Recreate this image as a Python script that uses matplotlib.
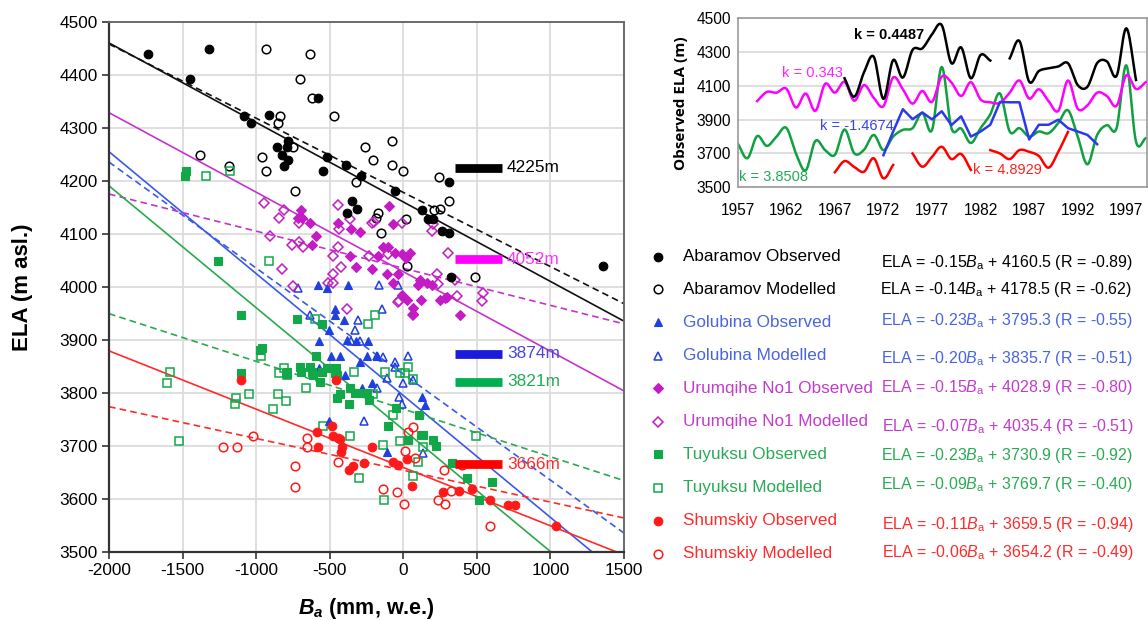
import numpy as np
import matplotlib
matplotlib.use("Agg")
import matplotlib.pyplot as plt

plt.rcParams['font.family'] = ['Liberation Sans', 'DejaVu Sans']
plt.rcParams['axes.unicode_minus'] = False
plt.rcParams['mathtext.fontset'] = 'custom'
plt.rcParams['mathtext.rm'] = 'Liberation Sans'
plt.rcParams['mathtext.it'] = 'Liberation Sans:italic'
plt.rcParams['mathtext.bf'] = 'Liberation Sans:bold'
try:
    plt.rcParams['mathtext.bfit'] = 'Liberation Sans:bold:italic'
except KeyError:
    pass

# ---------------- data ----------------
glaciers = ["Abaramov", "Golubina", "Urumqihe No1", "Tuyuksu", "Shumskiy"]

abaramov_obs_ba = [-1733, -1451, -1318, -1084, -1037, -910, -860, -792, -781, -822, -781, -808,
                   -577, -545, -516, -391, -289, -350, -384, -316, -56, 126, 171, 205, 266, 311,
                   311, 323, 1354]
abaramov_obs_ela = [4439, 4392, 4449, 4323, 4309, 4325, 4265, 4265, 4276, 4250, 4240, 4228,
                    4357, 4219, 4245, 4230, 4209, 4163, 4140, 4148, 4181, 4145, 4128, 4128, 4106, 4102,
                    4199, 4019, 4039]
abaramov_mod_ba = [-931, -634, -702, -622, -468, -835, -849, -751, -962, -935, -736, -1383, -1182,
                   -260, -203, -78, -76, -323, -173, -185, -151, 0, 245, 313, 211, 250, 19, 22, 488]
abaramov_mod_ela = [4449, 4439, 4392, 4357, 4323, 4323, 4309, 4264, 4245, 4219, 4181, 4249, 4228,
                    4264, 4239, 4275, 4230, 4199, 4139, 4130, 4102, 4219, 4208, 4162, 4145, 4147, 4129,
                    4039, 4019]

golubina_obs_ba = [-577, -520, -373, -464, -464, -400, -502, -570, -384, -237, -493, -294, -248,
                   -570, -396, -282, -214, -502, -112, -430, -321, -180, 126, 148]
golubina_obs_ela = [4004, 3999, 4004, 3958, 3948, 3938, 3919, 3898, 3900, 3898, 3870, 3859, 3869,
                    3848, 3834, 3809, 3818, 3748, 3689, 3870, 3899, 3869, 3792, 3777]
golubina_mod_ba = [-717, -162, -37, -146, -634, -305, -328, -294, -180, -135, -56, -108, -180,
                   -267, -26, -357, -56, 35, 0, -10, 137, 69]
golubina_mod_ela = [3998, 4004, 4004, 3958, 3948, 3938, 3919, 3898, 3870, 3867, 3859, 3828, 3809,
                    3748, 3793, 3899, 3850, 3869, 3819, 3779, 3686, 3825]

urumqi_obs_ba = [-695, -713, -690, -634, -593, -622, -441, -357, -294, -362, -321, -210, -173,
                 -94, -67, -139, -101, -56, -10, 17, 46, -71, -33, 113, 103, 164, 194, -10, 24,
                 64, 68, 119, 250, 284, 300, 386, -112]
urumqi_obs_ela = [4145, 4130, 4130, 4121, 4097, 4079, 4121, 4109, 4104, 4058, 4037, 4034, 4058,
                  4153, 4119, 4076, 4076, 4064, 4062, 4055, 4065, 4007, 4025, 4013, 4004, 4007, 4004,
                  3985, 3975, 3960, 3950, 3975, 3975, 3979, 3982, 3947, 4025]
urumqi_mod_ba = [-944, -808, -844, -706, -906, -758, -706, -679, -826, -747, -445, -434, -445,
                 -479, -423, -475, -509, -479, -384, -233, -198, -362, -214, -105, -28, -10, 205,
                 194, 307, 228, 239, 352, 368, -33, 64, 545, 534]
urumqi_mod_ela = [4159, 4145, 4130, 4121, 4097, 4079, 4084, 4075, 4034, 4001, 4155, 4109, 4076,
                  4059, 4037, 4025, 4007, 4007, 3958, 4059, 4123, 4128, 4120, 4062, 3974, 4120, 4119,
                  4106, 4065, 4025, 4005, 4013, 3983, 3972, 3947, 3988, 3974]

tuyuksu_obs_ba = [-1477, -1483, -1257, -1105, -1105, -724, -554, -958, -974, -593, -788, -788,
                  -702, -697, -634, -622, -611, -566, -554, -520, -486, -457, -452, -464, -448,
                  -430, -362, -328, -282, -248, -230, -366, -105, -49, 110, 120, 133, 35, 205,
                  223, 330, 436, 601, 517]
tuyuksu_obs_ela = [4219, 4209, 4050, 3948, 3838, 3940, 3930, 3884, 3881, 3870, 3840, 3835,
                   3850, 3840, 3850, 3840, 3834, 3820, 3840, 3848, 3848, 3848, 3834, 3838, 3790,
                   3798, 3809, 3800, 3800, 3800, 3787, 3779, 3738, 3771, 3758, 3721, 3721, 3711,
                   3711, 3700, 3668, 3639, 3633, 3598]
tuyuksu_mod_ba = [-1343, -1177, -910, -1585, -1604, -1524, -1137, -1143, -1046, -967, -842, -810,
                  -792, -849, -797, -883, -661, -600, -547, -362, -335, -298, -192, -237, -128,
                  -71, -124, -203, -20, -139, -20, 103, 65, 35, 12, 495, 137, 65]
tuyuksu_mod_ela = [4209, 4219, 4050, 3839, 3819, 3709, 3790, 3779, 3799, 3869, 3838, 3848,
                   3834, 3799, 3785, 3769, 3809, 3940, 3738, 3719, 3840, 3639, 3948, 3930, 3599,
                   3758, 3840, 3799, 3838, 3702, 3709, 3670, 3643, 3850, 3838, 3719, 3699, 3826]

shumskiy_obs_ba = [-1105, -459, -584, -577, -486, -475, -441, -430, -418, -425, -366, -339, -267,
                   -210, -67, -33, 28, 58, 268, 381, 466, 590, 714, 760, 1039]
shumskiy_obs_ela = [3825, 3825, 3726, 3699, 3738, 3719, 3716, 3714, 3699, 3689, 3655, 3663, 3667,
                    3699, 3669, 3664, 3675, 3625, 3614, 3616, 3618, 3599, 3589, 3589, 3549]
shumskiy_mod_ba = [-1227, -1132, -1019, -736, -736, -652, -652, -441, -135, -44, 65, 31, 12, 80,
                   8, 234, 284, 277, 325, 398, 590]
shumskiy_mod_ela = [3699, 3699, 3719, 3663, 3623, 3716, 3699, 3669, 3618, 3614, 3736, 3727, 3691,
                    3677, 3590, 3599, 3590, 3655, 3615, 3664, 3549]

# regression coefficients: observed then modelled for each glacier
fit_slope = [-0.15, -0.14, -0.23, -0.20, -0.15, -0.07, -0.23, -0.09, -0.11, -0.06]
fit_intercept = [4160.5, 4178.5, 3795.3, 3835.7, 4028.9, 4035.4, 3730.9, 3769.7, 3659.5, 3654.2]
fit_r = [-0.89, -0.62, -0.55, -0.51, -0.80, -0.51, -0.92, -0.40, -0.94, -0.49]

# mean ELA markers
mean_ela = [4225, 4052, 3874, 3821, 3666]

# observed ELA time series
abaramov_years = list(range(1968, 1984)) + list(range(1985, 1999))
abaramov_series = [4145, 4036, 4180, 4273, 4023, 4253, 4149, 4313, 4322, 4405, 4460, 4234, 4328,
                   4145, 4283, 4250, 4263, 4366, 4125, 4188, 4204, 4215, 4234, 4105, 4095, 4235,
                   4245, 4159, 4441, 4135]
urumqi_years = list(range(1959, 2000))
urumqi_series = [4010, 4064, 4060, 4084, 3972, 4055, 3952, 4112, 4060, 4124, 4012, 4105, 4030,
                 3980, 4150, 4080, 3995, 4070, 4005, 4155, 4120, 4040, 4122, 4020, 4003, 4000,
                 4060, 4132, 4025, 4080, 4010, 3952, 4132, 3965, 3985, 4060, 4040, 3982, 4163,
                 4082, 4122]
tuyuksu_years = list(range(1957, 2000))
tuyuksu_series = [3760, 3672, 3803, 3745, 3800, 3852, 3700, 3600, 3775, 3720, 3692, 3842, 3701,
                  3722, 3810, 3720, 3800, 3840, 3850, 3940, 3838, 4212, 3850, 3848, 3762, 3850,
                  3932, 4055, 3830, 3850, 3800, 3830, 3820, 3880, 3956, 3800, 3636, 3810, 3868,
                  3850, 4222, 3770, 3790]
golubina_years = list(range(1972, 1995))
golubina_series = [3690, 3830, 3962, 3903, 3943, 3902, 3950, 3868, 3920, 3800, 3830, 3870, 4005,
                   4003, 4003, 3783, 3870, 3870, 3900, 3850, 3830, 3810, 3755]
shumskiy_years = [1967, 1968, 1969, 1970, 1971, 1972, 1973,
                  1975, 1976, 1977, 1978, 1979, 1980, 1981,
                  1983, 1984, 1985, 1986, 1987, 1988, 1989, 1990, 1991]
shumskiy_series = [3589, 3655, 3620, 3592, 3672, 3553, 3632,
                   3700, 3622, 3680, 3740, 3667, 3697, 3603,
                   3720, 3700, 3667, 3720, 3710, 3685, 3616, 3710, 3828]
trend_k = ["0.4487", "0.343", "-1.4674", "3.8508", "4.8929"]

# ---------------- styling ----------------
W, H = 1148, 620
C_BLACK = "#000000"
C_BLUE = "#1f3fe0"
C_MAG = "#c41cc4"
C_GREEN = "#12a84a"
C_RED = "#ff1a1a"
line_cols = ["#111111", "#3a5ae6", "#c633cc", "#2aaa4c", "#ff2a2a"]
text_cols = ["#000000", "#4a64e0", "#c23ccc", "#2aaa55", "#ff2a2a"]
mark_cols = [C_BLACK, C_BLUE, C_MAG, C_GREEN, C_RED]
markers = ["o", "^", "D", "s", "o"]
msizes = [6.2, 6.2, 5.2, 6.0, 6.2]
bar_cols = ["#000000", "#ff00ff", "#1a1ad8", "#00b050", "#ff0000"]
bar_text_cols = ["#000000", "#ff33ff", "#4646dd", "#22aa55", "#ff2a2a"]
inset_cols = ["#000000", "#ff00ff", "#2a3ae8", "#10a040", "#ff0000"]

obs_sets = [(abaramov_obs_ba, abaramov_obs_ela), (golubina_obs_ba, golubina_obs_ela),
            (urumqi_obs_ba, urumqi_obs_ela), (tuyuksu_obs_ba, tuyuksu_obs_ela),
            (shumskiy_obs_ba, shumskiy_obs_ela)]
mod_sets = [(abaramov_mod_ba, abaramov_mod_ela), (golubina_mod_ba, golubina_mod_ela),
            (urumqi_mod_ba, urumqi_mod_ela), (tuyuksu_mod_ba, tuyuksu_mod_ela),
            (shumskiy_mod_ba, shumskiy_mod_ela)]

fig = plt.figure(figsize=(W / 100, H / 100), dpi=100)

# ---------------- main scatter ----------------
ax = fig.add_axes([109 / W, 1 - 552 / H, 515 / W, 530 / H])
ax.set_xlim(-2000, 1500)
ax.set_ylim(3500, 4500)
ax.set_xticks(np.arange(-2000, 1501, 500))
ax.set_yticks(np.arange(3500, 4501, 100))
ax.grid(True, color="#dcdcdc", lw=1.3, zorder=0)
ax.set_axisbelow(True)
for s in ["left", "bottom"]:
    ax.spines[s].set_color("#333333")
    ax.spines[s].set_linewidth(1.6)
for s in ["top", "right"]:
    ax.spines[s].set_color("#6a6a6a")
    ax.spines[s].set_linewidth(1.4)
ax.tick_params(axis="both", labelsize=12.4, length=5, width=1.2, color="#333333", pad=3)

# regression lines
bx = np.array([-2000, 1500])
for i in range(5):
    for j, ls in enumerate(["-", "--"]):
        k = 2 * i + j
        ax.plot(bx, fit_slope[k] * bx + fit_intercept[k], color=line_cols[i], lw=1.2,
                ls=ls, dashes=(4, 2.5) if ls == "--" else (None, None), zorder=2)

# scatter points
for i in range(5):
    ob, oe = obs_sets[i]
    mb, me = mod_sets[i]
    ax.plot(mb, me, ls="none", marker=markers[i], ms=msizes[i], mfc="none",
            mec=mark_cols[i], mew=1.1, zorder=3)
    ax.plot(ob, oe, ls="none", marker=markers[i], ms=msizes[i], mfc=mark_cols[i],
            mec=mark_cols[i], mew=0.8, zorder=4)

# mean ELA bars
for i, v in enumerate(mean_ela):
    ax.plot([350, 670], [v, v], color=bar_cols[i], lw=6.3, solid_capstyle="butt", zorder=5)
    ax.text(705, v, f"{v}m", color=bar_text_cols[i], fontsize=12.4, va="center",
            ha="left", zorder=6)

ax.set_xlabel(r"$\mathbfit{B_a}$ (mm, w.e.)", fontsize=15.5, fontweight="bold", labelpad=13)
ax.set_ylabel("ELA (m asl.)", fontsize=16, fontweight="bold", labelpad=19)


# ---------------- inset time series ----------------
def catmull(xs, ys, n=12):
    pts = np.column_stack([xs, ys]).astype(float)
    if len(pts) < 3:
        return pts[:, 0], pts[:, 1]
    P = np.vstack([2 * pts[0] - pts[1], pts, 2 * pts[-1] - pts[-2]])
    t = np.linspace(0, 1, n, endpoint=False)[:, None]
    out = []
    for q in range(1, len(P) - 2):
        p0, p1, p2, p3 = P[q - 1], P[q], P[q + 1], P[q + 2]
        out.append(0.5 * (2 * p1 + (-p0 + p2) * t + (2 * p0 - 5 * p1 + 4 * p2 - p3) * t ** 2
                          + (-p0 + 3 * p1 - 3 * p2 + p3) * t ** 3))
    out.append(pts[-1:])
    o = np.vstack(out)
    return o[:, 0], o[:, 1]


def segments(years, vals):
    years = np.asarray(years)
    vals = np.asarray(vals)
    cut = np.where(np.diff(years) > 1)[0] + 1
    return zip(np.split(years, cut), np.split(vals, cut))


ax2 = fig.add_axes([737.7 / W, 1 - 187.3 / H, 409 / W, 169 / H])
ax2.set_xlim(1957, 1999.1)
ax2.set_ylim(3500, 4500)
ax2.set_xticks(np.arange(1957, 1998, 5))
ax2.set_yticks(np.arange(3500, 4501, 200))
ax2.grid(True, axis="y", color="#d8d8d8", lw=1.2)
ax2.set_axisbelow(True)
for s in ax2.spines.values():
    s.set_color("#9a9a9a")
    s.set_linewidth(1.2)
ax2.tick_params(axis="y", labelsize=11.2, length=0, pad=5)
ax2.tick_params(axis="x", labelsize=11.2, length=0, pad=11)
ax2.set_ylabel("Observed ELA (m)", fontsize=11, fontweight="bold", labelpad=6,
               family=["Open Sans", "DejaVu Sans"])

series = [(abaramov_years, abaramov_series, True),
          (urumqi_years, urumqi_series, True),
          (golubina_years, golubina_series, False),
          (tuyuksu_years, tuyuksu_series, True),
          (shumskiy_years, shumskiy_series, True)]
order_z = [5, 3, 4, 2, 6]
for (yrs, vals, smooth), col, z in zip(series, inset_cols, order_z):
    for sy, sv in segments(yrs, vals):
        if smooth:
            xs, ys = catmull(sy, sv)
        else:
            xs, ys = sy, sv
        ax2.plot(xs, ys, color=col, lw=1.8, zorder=z, solid_joinstyle="round")

k_pos = [(1969.0, 4400), (1961.6, 4175), (1965.5, 3860), (1957.1, 3563), (1981.2, 3602)]
k_cols = ["#000000", "#ff22ff", "#3a44e0", "#22aa55", "#ff2222"]
k_weight = ["bold", "normal", "normal", "normal", "normal"]
for (x, y), kk, c, wt in zip(k_pos, trend_k, k_cols, k_weight):
    ax2.text(x, y, f"k = {kk}", color=c, fontsize=10.5, fontweight=wt, va="center",
             ha="left", zorder=8)

# ---------------- legend with regression equations ----------------
lax = fig.add_axes([0, 0, 1, 1])
lax.set_xlim(0, W)
lax.set_ylim(H, 0)
lax.axis("off")

row_y = [256.7, 289.0, 322.2, 355.5, 388.3, 421.7, 454.3, 487.8, 520.7, 553.8]
eq_y = [262.3, 289.3, 320.0, 358.3, 387.7, 426.0, 455.7, 485.0, 524.0, 552.7]
eq_x = [880.7, 879.5, 880.7, 880.7, 880.7, 882.3, 880.7, 880.7, 882.3, 882.3]
for i in range(5):
    for j, kind in enumerate(["Observed", "Modelled"]):
        k = 2 * i + j
        lax.plot([658.3], [row_y[k]], ls="none", marker=markers[i], ms=msizes[i],
                 mfc=mark_cols[i] if j == 0 else "none", mec=mark_cols[i],
                 mew=1.1 if j else 0.8)
        lax.text(683, row_y[k], f"{glaciers[i]} {kind}", color=text_cols[i], fontsize=12.3,
                 va="center", ha="left")
        eq = (f"ELA = {fit_slope[k]:.2f}$B_{{\\mathrm{{a}}}}$ + {fit_intercept[k]:.1f} "
              f"(R = {fit_r[k]:.2f})")
        lax.text(eq_x[k], eq_y[k], eq, color=text_cols[i], fontsize=11.5, va="center",
                 ha="left")

fig.savefig("out.png", dpi=100)
